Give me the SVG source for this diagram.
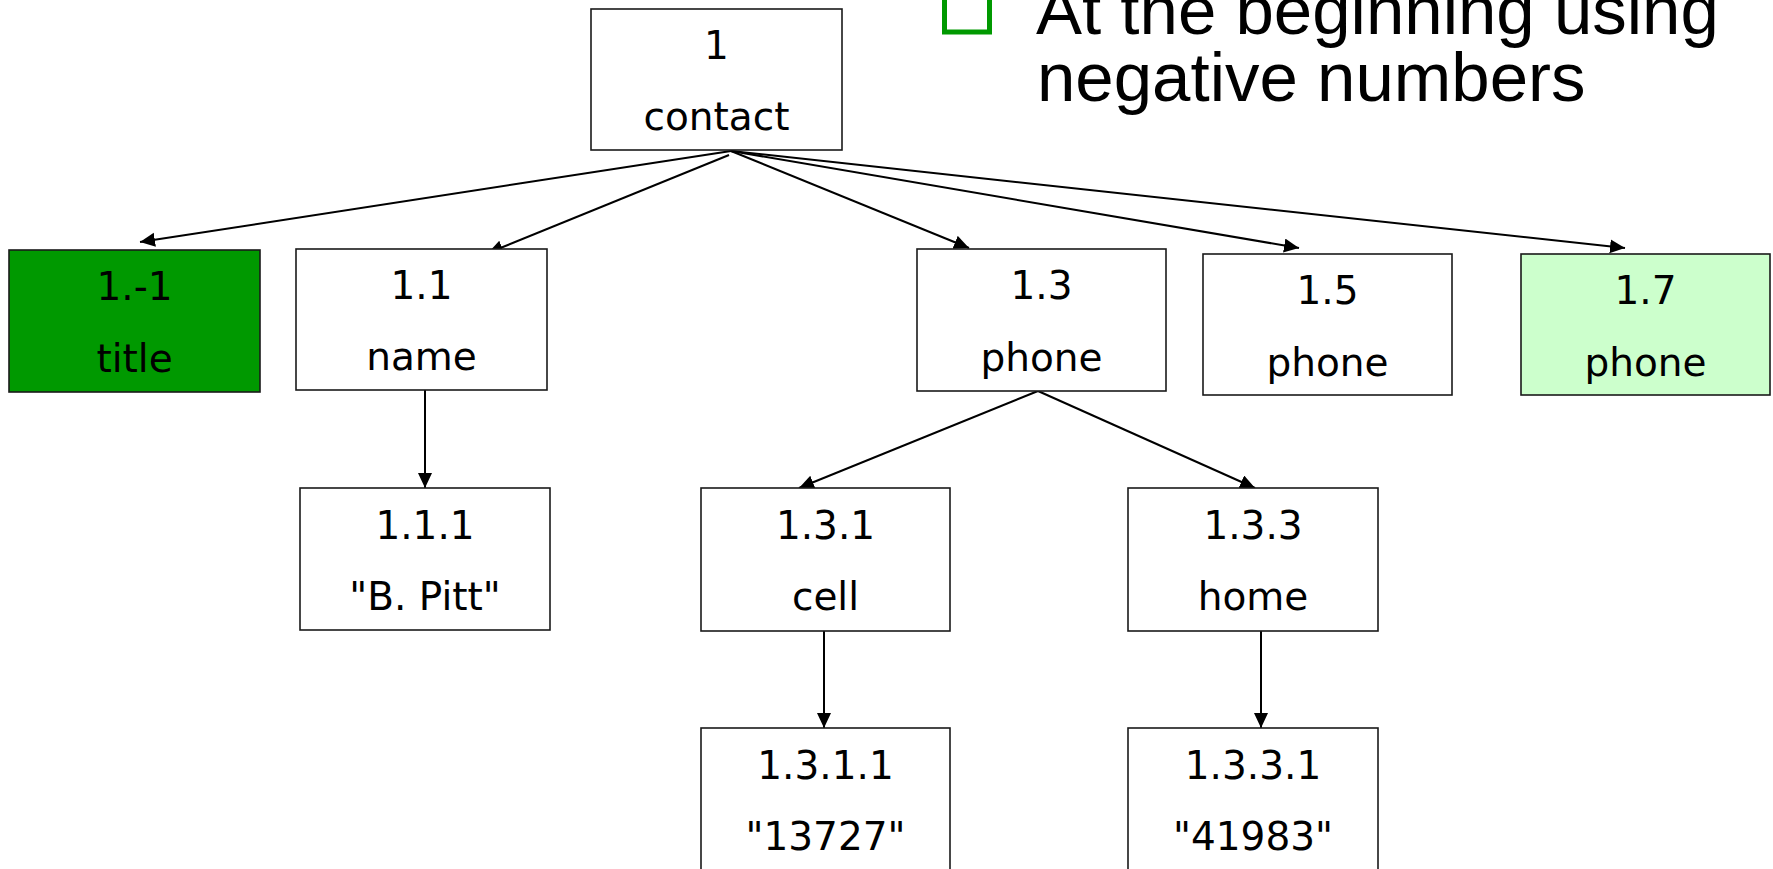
<svg xmlns="http://www.w3.org/2000/svg" width="1773" height="869" viewBox="0 0 1773 869">
<style>
.box{fill:#ffffff;stroke:#1a1a1a;stroke-width:1.6}
.dark{fill:#009900}
.light{fill:#ccffcc}
.t{font-family:"DejaVu Sans","Verdana",sans-serif;font-size:39px;fill:#000;text-anchor:middle}
.edge{stroke:#000;stroke-width:2;fill:none;marker-end:url(#arr)}
.big{font-family:"Liberation Sans",Arial,sans-serif;font-size:69px;fill:#000}
</style>
<defs>
<marker id="arr" markerUnits="userSpaceOnUse" markerWidth="16" markerHeight="15" refX="15" refY="7" orient="auto">
<path d="M0,0 L15,7 L0,14 z" fill="#000"/>
</marker>
</defs>
<rect width="1773" height="869" fill="#ffffff"/>
<g id="bullet">
<rect x="944.5" y="-13" width="45" height="45" fill="none" stroke="#009900" stroke-width="5"/>
<text class="big" x="1036" y="34">At the beginning using</text>
<text class="big" x="1037" y="100.5">negative numbers</text>
</g>
<g id="connectors">
<line class="edge" x1="731" y1="151" x2="140" y2="242"/>
<line class="edge" x1="729" y1="155" x2="488" y2="253"/>
<line class="edge" x1="731" y1="151" x2="969" y2="248"/>
<line class="edge" x1="731" y1="151" x2="1299" y2="248"/>
<line class="edge" x1="731" y1="151" x2="1625" y2="248"/>
<line class="edge" x1="425" y1="390" x2="425" y2="488"/>
<line class="edge" x1="1038" y1="391" x2="799" y2="488"/>
<line class="edge" x1="1038" y1="391" x2="1255" y2="488"/>
<line class="edge" x1="824" y1="631" x2="824" y2="728"/>
<line class="edge" x1="1261" y1="631" x2="1261" y2="728"/>
</g>
<g id="n1">
<rect class="box" x="591" y="9" width="251" height="141"/>
<text class="t" x="716.5" y="58.5">1</text>
<text class="t" x="716.5" y="129.5">contact</text>
</g>
<g id="n1m1">
<rect class="box dark" x="9" y="250" width="251" height="142"/>
<text class="t" x="134.5" y="300">1.-1</text>
<text class="t" x="134.5" y="371.5">title</text>
</g>
<g id="n1_1">
<rect class="box" x="296" y="249" width="251" height="141"/>
<text class="t" x="421.5" y="298.5">1.1</text>
<text class="t" x="421.5" y="370">name</text>
</g>
<g id="n1_3">
<rect class="box" x="917" y="249" width="249" height="142"/>
<text class="t" x="1041.5" y="299">1.3</text>
<text class="t" x="1041.5" y="370.5">phone</text>
</g>
<g id="n1_5">
<rect class="box" x="1203" y="254" width="249" height="141"/>
<text class="t" x="1327.5" y="304">1.5</text>
<text class="t" x="1327.5" y="375.5">phone</text>
</g>
<g id="n1_7">
<rect class="box light" x="1521" y="254" width="249" height="141"/>
<text class="t" x="1645.5" y="304">1.7</text>
<text class="t" x="1645.5" y="375.5">phone</text>
</g>
<g id="n1_1_1">
<rect class="box" x="300" y="488" width="250" height="142"/>
<text class="t" x="425" y="538.5">1.1.1</text>
<text class="t" x="425" y="610">"B. Pitt"</text>
</g>
<g id="n1_3_1">
<rect class="box" x="701" y="488" width="249" height="143"/>
<text class="t" x="825.5" y="538.5">1.3.1</text>
<text class="t" x="825.5" y="610">cell</text>
</g>
<g id="n1_3_3">
<rect class="box" x="1128" y="488" width="250" height="143"/>
<text class="t" x="1253" y="538.5">1.3.3</text>
<text class="t" x="1253" y="610">home</text>
</g>
<g id="n1_3_1_1">
<rect class="box" x="701" y="728" width="249" height="143"/>
<text class="t" x="825.5" y="778.5">1.3.1.1</text>
<text class="t" x="825.5" y="850">"13727"</text>
</g>
<g id="n1_3_3_1">
<rect class="box" x="1128" y="728" width="250" height="143"/>
<text class="t" x="1253" y="778.5">1.3.3.1</text>
<text class="t" x="1253" y="850">"41983"</text>
</g>
</svg>
